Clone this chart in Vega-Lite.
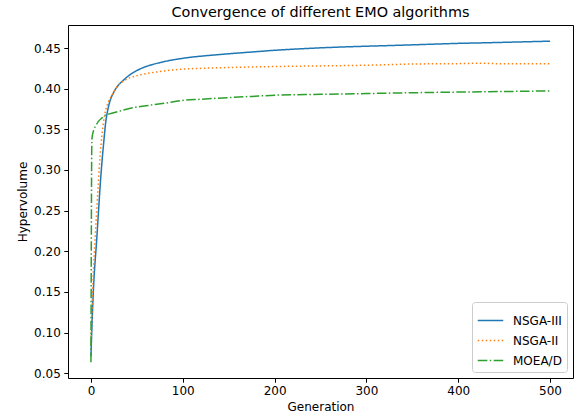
{
  "$schema": "https://vega.github.io/schema/vega-lite/v6.json",
  "autosize": {"type": "none"},
  "padding": {"left": 68, "top": 25, "right": 5, "bottom": 41},
  "width": 505,
  "height": 353,
  "title": {"text": "Convergence of different EMO algorithms", "fontSize": 14.4, "font": "DejaVu Sans", "fontWeight": "normal", "color": "black", "anchor": "middle", "offset": 5},
  "config": {
    "view": {"stroke": "black", "strokeWidth": 1},
    "font": "DejaVu Sans",
    "axis": {"grid": false, "domain": false, "tickColor": "black", "tickSize": 4.2, "tickWidth": 1, "labelFontSize": 12, "labelColor": "black", "labelFont": "DejaVu Sans", "labelPadding": 3.5, "titleFontSize": 12, "titleFont": "DejaVu Sans", "titleFontWeight": "normal", "titleColor": "black", "titlePadding": 4.5},
    "legend": {"labelFontSize": 12, "labelFont": "DejaVu Sans", "labelColor": "black"}
  },
  "data": {"values": [
    {"alg": "NSGA-III", "gen": 0, "hv": 0.071},
    {"alg": "NSGA-III", "gen": 1, "hv": 0.105},
    {"alg": "NSGA-III", "gen": 2, "hv": 0.135},
    {"alg": "NSGA-III", "gen": 3, "hv": 0.16},
    {"alg": "NSGA-III", "gen": 4, "hv": 0.179},
    {"alg": "NSGA-III", "gen": 6, "hv": 0.21},
    {"alg": "NSGA-III", "gen": 8, "hv": 0.245},
    {"alg": "NSGA-III", "gen": 10, "hv": 0.28},
    {"alg": "NSGA-III", "gen": 12, "hv": 0.31},
    {"alg": "NSGA-III", "gen": 14, "hv": 0.335},
    {"alg": "NSGA-III", "gen": 16, "hv": 0.358},
    {"alg": "NSGA-III", "gen": 18, "hv": 0.372},
    {"alg": "NSGA-III", "gen": 20, "hv": 0.382},
    {"alg": "NSGA-III", "gen": 25, "hv": 0.396},
    {"alg": "NSGA-III", "gen": 30, "hv": 0.4045},
    {"alg": "NSGA-III", "gen": 35, "hv": 0.41},
    {"alg": "NSGA-III", "gen": 40, "hv": 0.415},
    {"alg": "NSGA-III", "gen": 48, "hv": 0.421},
    {"alg": "NSGA-III", "gen": 55, "hv": 0.425},
    {"alg": "NSGA-III", "gen": 65, "hv": 0.429},
    {"alg": "NSGA-III", "gen": 75, "hv": 0.432},
    {"alg": "NSGA-III", "gen": 85, "hv": 0.4345},
    {"alg": "NSGA-III", "gen": 97, "hv": 0.4368},
    {"alg": "NSGA-III", "gen": 110, "hv": 0.4388},
    {"alg": "NSGA-III", "gen": 125, "hv": 0.4405},
    {"alg": "NSGA-III", "gen": 140, "hv": 0.442},
    {"alg": "NSGA-III", "gen": 160, "hv": 0.4438},
    {"alg": "NSGA-III", "gen": 180, "hv": 0.4455},
    {"alg": "NSGA-III", "gen": 200, "hv": 0.4472},
    {"alg": "NSGA-III", "gen": 225, "hv": 0.4488},
    {"alg": "NSGA-III", "gen": 250, "hv": 0.4502},
    {"alg": "NSGA-III", "gen": 275, "hv": 0.4513},
    {"alg": "NSGA-III", "gen": 300, "hv": 0.4522},
    {"alg": "NSGA-III", "gen": 325, "hv": 0.453},
    {"alg": "NSGA-III", "gen": 350, "hv": 0.4539},
    {"alg": "NSGA-III", "gen": 375, "hv": 0.4548},
    {"alg": "NSGA-III", "gen": 400, "hv": 0.4557},
    {"alg": "NSGA-III", "gen": 425, "hv": 0.4563},
    {"alg": "NSGA-III", "gen": 450, "hv": 0.457},
    {"alg": "NSGA-III", "gen": 475, "hv": 0.4577},
    {"alg": "NSGA-III", "gen": 500, "hv": 0.4584},
    {"alg": "NSGA-II", "gen": 0, "hv": 0.085},
    {"alg": "NSGA-II", "gen": 1, "hv": 0.12},
    {"alg": "NSGA-II", "gen": 2, "hv": 0.155},
    {"alg": "NSGA-II", "gen": 3, "hv": 0.183},
    {"alg": "NSGA-II", "gen": 4, "hv": 0.205},
    {"alg": "NSGA-II", "gen": 6, "hv": 0.245},
    {"alg": "NSGA-II", "gen": 8, "hv": 0.283},
    {"alg": "NSGA-II", "gen": 10, "hv": 0.318},
    {"alg": "NSGA-II", "gen": 12, "hv": 0.343},
    {"alg": "NSGA-II", "gen": 15, "hv": 0.368},
    {"alg": "NSGA-II", "gen": 18, "hv": 0.381},
    {"alg": "NSGA-II", "gen": 23, "hv": 0.392},
    {"alg": "NSGA-II", "gen": 30, "hv": 0.4045},
    {"alg": "NSGA-II", "gen": 35, "hv": 0.409},
    {"alg": "NSGA-II", "gen": 41, "hv": 0.4128},
    {"alg": "NSGA-II", "gen": 50, "hv": 0.416},
    {"alg": "NSGA-II", "gen": 60, "hv": 0.4185},
    {"alg": "NSGA-II", "gen": 75, "hv": 0.421},
    {"alg": "NSGA-II", "gen": 97, "hv": 0.4238},
    {"alg": "NSGA-II", "gen": 120, "hv": 0.425},
    {"alg": "NSGA-II", "gen": 150, "hv": 0.426},
    {"alg": "NSGA-II", "gen": 200, "hv": 0.4272},
    {"alg": "NSGA-II", "gen": 250, "hv": 0.428},
    {"alg": "NSGA-II", "gen": 300, "hv": 0.4288},
    {"alg": "NSGA-II", "gen": 350, "hv": 0.4303},
    {"alg": "NSGA-II", "gen": 400, "hv": 0.4308},
    {"alg": "NSGA-II", "gen": 425, "hv": 0.4313},
    {"alg": "NSGA-II", "gen": 450, "hv": 0.4305},
    {"alg": "NSGA-II", "gen": 500, "hv": 0.4307},
    {"alg": "MOEA/D", "gen": 0, "hv": 0.0636},
    {"alg": "MOEA/D", "gen": 1, "hv": 0.337},
    {"alg": "MOEA/D", "gen": 2, "hv": 0.345},
    {"alg": "MOEA/D", "gen": 3, "hv": 0.349},
    {"alg": "MOEA/D", "gen": 5, "hv": 0.354},
    {"alg": "MOEA/D", "gen": 8, "hv": 0.3594},
    {"alg": "MOEA/D", "gen": 12, "hv": 0.364},
    {"alg": "MOEA/D", "gen": 16, "hv": 0.3677},
    {"alg": "MOEA/D", "gen": 20, "hv": 0.369},
    {"alg": "MOEA/D", "gen": 30, "hv": 0.372},
    {"alg": "MOEA/D", "gen": 43, "hv": 0.3759},
    {"alg": "MOEA/D", "gen": 60, "hv": 0.379},
    {"alg": "MOEA/D", "gen": 80, "hv": 0.382},
    {"alg": "MOEA/D", "gen": 97, "hv": 0.3852},
    {"alg": "MOEA/D", "gen": 120, "hv": 0.387},
    {"alg": "MOEA/D", "gen": 150, "hv": 0.389},
    {"alg": "MOEA/D", "gen": 175, "hv": 0.3905},
    {"alg": "MOEA/D", "gen": 206, "hv": 0.3922},
    {"alg": "MOEA/D", "gen": 250, "hv": 0.393},
    {"alg": "MOEA/D", "gen": 300, "hv": 0.394},
    {"alg": "MOEA/D", "gen": 350, "hv": 0.395},
    {"alg": "MOEA/D", "gen": 400, "hv": 0.3958},
    {"alg": "MOEA/D", "gen": 450, "hv": 0.3965},
    {"alg": "MOEA/D", "gen": 500, "hv": 0.3972}
  ]},
  "mark": {"type": "line", "strokeWidth": 1.5, "interpolate": "monotone"},
  "encoding": {
    "x": {"field": "gen", "type": "quantitative", "title": "Generation", "scale": {"domain": [-25, 525], "nice": false, "zero": false}, "axis": {"values": [0, 100, 200, 300, 400, 500]}},
    "y": {"field": "hv", "type": "quantitative", "title": "Hypervolume", "scale": {"domain": [0.0441, 0.4783], "nice": false, "zero": false}, "axis": {"values": [0.05, 0.1, 0.15, 0.2, 0.25, 0.3, 0.35, 0.4, 0.45], "format": ".2f"}},
    "color": {"field": "alg", "type": "nominal", "scale": {"domain": ["NSGA-III", "NSGA-II", "MOEA/D"], "range": ["#1f77b4", "#ff7f0e", "#2ca02c"]},
      "legend": {"title": null, "orient": "bottom-right", "offset": 6, "fillColor": "white", "strokeColor": "#cccccc", "cornerRadius": 3, "padding": 5, "symbolType": "stroke", "symbolSize": 650, "symbolStrokeWidth": 1.5, "labelFontSize": 12, "labelOffset": 9, "rowPadding": -6}},
    "strokeDash": {"field": "alg", "type": "nominal", "scale": {"domain": ["NSGA-III", "NSGA-II", "MOEA/D"], "range": [[1, 0], [1.5, 2.5], [9.6, 2.4, 1.5, 2.4]]},
      "legend": {"title": null}}
  }
}
